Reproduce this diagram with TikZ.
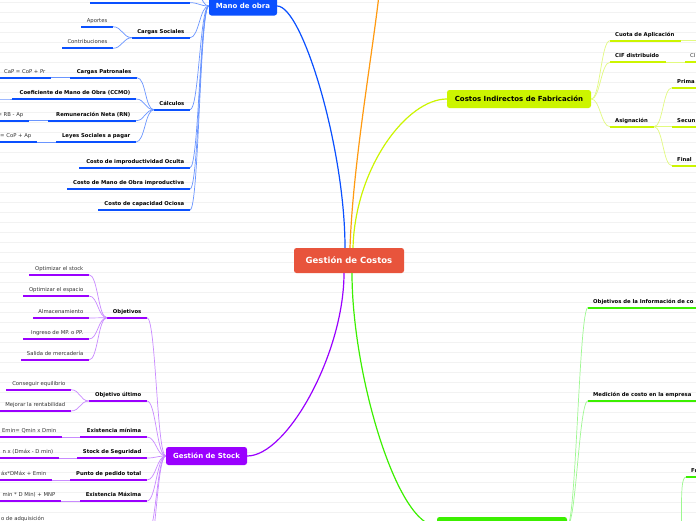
\documentclass[tikz,border=0pt]{standalone}
\usepackage{fontspec}
\setmainfont{DejaVu Sans}
\definecolor{cred}{HTML}{E8543C}
\definecolor{cblue}{HTML}{0A50FF}
\definecolor{lblue}{HTML}{6A95FF}
\definecolor{corange}{HTML}{FF9A10}
\definecolor{clime}{HTML}{CCF500}
\definecolor{llime}{HTML}{E2FA80}
\definecolor{cpurple}{HTML}{9A00FF}
\definecolor{lpurple}{HTML}{C98AFF}
\definecolor{cgreen}{HTML}{3CF000}
\definecolor{lgreen}{HTML}{9DF890}
\definecolor{ctext}{HTML}{333333}
\newcommand{\TL}[7]{%
  \coordinate (#1L) at (#2,#4); \coordinate (#1R) at (#3,#4);
  \draw[ul,#5] (#1L) -- (#1R);
  \node[#6,anchor=base east] (#1) at ([xshift=-5.5pt,yshift=4.5pt]#1R) {#7};}
\newcommand{\TR}[7]{%
  \coordinate (#1L) at (#2,#4); \coordinate (#1R) at (#3,#4);
  \draw[ul,#5] (#1L) -- (#1R);
  \node[#6,anchor=base west] (#1) at ([xshift=5pt,yshift=4.5pt]#1L) {#7};}
\newcommand{\CL}[3]{\draw[cn,#3] (#1) .. controls +(-9,0) and +(9,0) .. (#2);}
\newcommand{\CR}[3]{\draw[cn,#3] (#1) .. controls +(9,0) and +(-9,0) .. (#2);}
\begin{document}
\begin{tikzpicture}[x=1pt,y=-1pt,
  ul/.style={line width=2pt},
  cn/.style={line width=0.7pt},
  br/.style={line width=1.2pt},
  tb/.style={inner sep=0pt,font=\bfseries\fontsize{5.3}{6}\selectfont,text=black},
  tn/.style={inner sep=0pt,font=\fontsize{5.3}{6}\selectfont,text=ctext},
  mainbox/.style={rounded corners=2.5pt,inner sep=0pt,font=\bfseries\fontsize{7}{8}\selectfont}]
\useasboundingbox (0,0) rectangle (696,520);
\fill[white] (0,0) rectangle (696,520);
\clip (0,0) rectangle (696,520);
\foreach \k in {0,...,51} \draw[black!5,line width=0.5pt] (0,2.7+10*\k) -- (696,2.7+10*\k);

% central
\node[mainbox,fill=cred,text=white,minimum width=110pt,minimum height=25pt,font=\bfseries\fontsize{8.5}{10}\selectfont] (central) at (349,260.5) {Gestión de Costos};
\node[mainbox,fill=cblue,text=white,minimum width=68pt,minimum height=19pt] (mano) at (243,6) {Mano de obra};
\node[mainbox,fill=clime,text=black,minimum width=144pt,minimum height=18pt] (cif) at (519,99) {Costos Indirectos de Fabricación};
\node[mainbox,fill=cpurple,text=white,minimum width=81pt,minimum height=18pt] (stock) at (206.5,456) {Gestión de Stock};
\node[mainbox,fill=cgreen,minimum width=130pt,minimum height=18pt] (green) at (502,526) {};
\coordinate (orangeEnd) at (381,-25);

% main branches
\draw[br,cblue] ([xshift=-4pt]central.north) .. controls +(0,-100) and +(25,0) .. (mano.east);
\draw[br,corange] ([xshift=1pt]central.north) .. controls +(3,-90) and +(-5,60) .. (orangeEnd);
\draw[br,clime] ([xshift=4pt]central.north) .. controls +(2,-80) and +(-40,0) .. (cif.west);
\draw[br,cpurple] ([xshift=-5pt]central.south) .. controls +(0,80) and +(40,0) .. (stock.east);
\draw[br,cgreen] ([xshift=3pt]central.south) .. controls +(0,100) and +(-40,0) .. (green.west);

% ---------- Mano de obra ----------
\coordinate (mtop) at (90,2.7); \coordinate (mtopR) at (190,2.7);
\draw[ul,cblue] (mtop) -- (mtopR);
\coordinate (moff) at (190,-20);
\TL{cs}{132}{190}{37.7}{cblue}{tb}{Cargas Sociales}
\TL{ap}{81}{113}{26.7}{cblue}{tn}{Aportes}
\TL{co}{62}{113}{48.3}{cblue}{tn}{Contribuciones}
\TL{calc}{154}{190}{109.7}{cblue}{tb}{Cálculos}
\TL{cp}{70}{137}{77.7}{cblue}{tb}{Cargas Patronales}
\TL{cpf}{-5}{51}{77.7}{cblue}{tn}{CaP = CoP + Pr}
\TL{cc}{12}{136}{99}{cblue}{tb}{Coeficiente de Mano de Obra (CCMO)}
\coordinate (ccoff) at (-10,99);
\TL{rn}{48}{136}{120.7}{cblue}{tb}{Remuneración Neta (RN)}
\TL{rnf}{-5}{29}{120.7}{cblue}{tn}{= RB - Ap}
\TL{ls}{56}{136}{142}{cblue}{tb}{Leyes Sociales a pagar}
\TL{lsf}{-5}{37}{142}{cblue}{tn}{= CoP + Ap}
\TL{ci}{79}{190}{167.7}{cblue}{tb}{Costo de improductividad Oculta}
\TL{cm}{67}{190}{189}{cblue}{tb}{Costo de Mano de Obra improductiva}
\TL{cap}{98}{190}{210}{cblue}{tb}{Costo de capacidad Ociosa}
\foreach \t in {mtopR,csR,calcR,ciR,cmR,capR,moff} {\CL{mano.west}{\t}{lblue}}
\CL{csL}{apR}{lblue}
\CL{csL}{coR}{lblue}
\foreach \t in {cpR,ccR,rnR,lsR} {\CL{calcL}{\t}{lblue}}
\CL{cpL}{cpfR}{lblue}
\CL{ccL}{ccoff}{lblue}
\CL{rnL}{rnfR}{lblue}
\CL{lsL}{lsfR}{lblue}

% ---------- Gestión de Stock ----------
\TL{obj}{107}{147}{317.7}{cpurple}{tb}{Objetivos}
\TL{oa}{29}{89}{274.7}{cpurple}{tn}{Optimizar el stock}
\TL{ob}{23}{89}{296}{cpurple}{tn}{Optimizar el espacio}
\TL{oc}{33}{89}{318}{cpurple}{tn}{Almacenamiento}
\TL{od}{23}{89}{339}{cpurple}{tn}{Ingreso de MP. o PP.}
\TL{oe}{21}{89}{360}{cpurple}{tn}{Salida de mercadería}
\TL{ou}{89}{147}{401}{cpurple}{tb}{Objetivo último}
\TL{ua}{6}{71}{389.7}{cpurple}{tn}{Conseguir equilibrio}
\TL{ub}{-5}{71}{411}{cpurple}{tn}{Mejorar la rentabilidad}
\TL{em}{80}{147}{437}{cpurple}{tb}{Existencia mínima}
\TL{emf}{-5}{62}{437}{cpurple}{tn}{Emin= Qmin x Dmin}
\TL{ss}{77}{147}{458}{cpurple}{tb}{Stock de Seguridad}
\TL{ssf}{-5}{59}{458}{cpurple}{tn}{n x (Dmáx - D min)}
\TL{pp}{70}{147}{480}{cpurple}{tb}{Punto de pedido total}
\TL{ppf}{-5}{52}{480}{cpurple}{tn}{áx*DMáx + Emin}
\TL{ex}{80}{147}{501}{cpurple}{tb}{Existencia Máxima}
\TL{exf}{-5}{61}{501}{cpurple}{tn}{min * D Min) + MNP}
\TL{adq}{-5}{50}{524.5}{cpurple}{tn}{o de adquisición}
\coordinate (soff1) at (147,535);
\coordinate (soff2) at (147,556);
\foreach \t in {objR,ouR,emR,ssR,ppR,exR,soff1,soff2} {\CL{stock.west}{\t}{lpurple}}
\foreach \t in {oaR,obR,ocR,odR,oeR} {\CL{objL}{\t}{lpurple}}
\CL{ouL}{uaR}{lpurple}
\CL{ouL}{ubR}{lpurple}
\CL{emL}{emfR}{lpurple}
\CL{ssL}{ssfR}{lpurple}
\CL{ppL}{ppfR}{lpurple}
\CL{exL}{exfR}{lpurple}

% ---------- CIF ----------
\TR{cuota}{610}{681}{40.7}{clime}{tb}{Cuota de Aplicación}
\coordinate (cuotaoff) at (705,40.7);
\TR{cifd}{610}{666}{62.3}{clime}{tb}{CIF distribuido}
\TR{cifc}{685}{720}{62.3}{clime}{tn}{CI}
\TR{asig}{610}{654}{126.7}{clime}{tb}{Asignación}
\TR{prima}{672}{720}{87.7}{clime}{tb}{Prima}
\TR{secun}{672}{720}{126.7}{clime}{tb}{Secun}
\TR{final}{672}{720}{165.7}{clime}{tb}{Final}
\foreach \t in {cuotaL,cifdL,asigL} {\CR{cif.east}{\t}{llime}}
\CR{cuotaR}{cuotaoff}{llime}
\CR{cifdR}{cifcL}{llime}
\foreach \t in {primaL,secunL,finalL} {\CR{asigR}{\t}{llime}}

% ---------- green ----------
\TR{gobj}{588}{720}{307.5}{cgreen}{tb}{Objetivos de la Información de co}
\TR{gmed}{588}{720}{400.7}{cgreen}{tb}{Medición de costo en la empresa}
\TR{gfu}{686}{720}{477}{cgreen}{tb}{Fu}
\coordinate (gfuoff) at (677,545);
\coordinate (goff) at (588,560);
\foreach \t in {gobjL,gmedL,goff} {\CR{green.east}{\t}{lgreen}}
\CR{gfuoff}{gfuL}{lgreen}
\end{tikzpicture}
\end{document}
